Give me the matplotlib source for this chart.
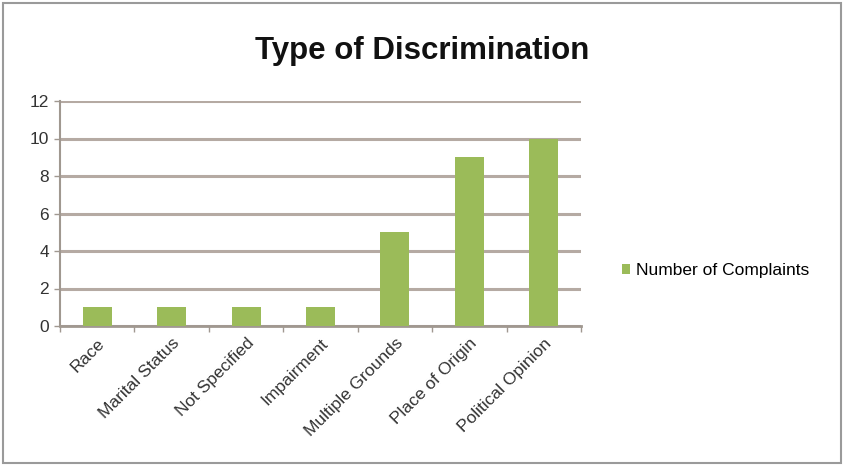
import matplotlib
matplotlib.use("Agg")
import matplotlib.pyplot as plt
from matplotlib.patches import Rectangle
import numpy as np

categories = ["Race", "Marital Status", "Not Specified", "Impairment",
              "Multiple Grounds", "Place of Origin", "Political Opinion"]
complaints = [1, 1, 1, 1, 5, 9, 10]
yticks = [0, 2, 4, 6, 8, 10, 12]

plt.rcParams['font.family'] = ['Liberation Sans', 'DejaVu Sans']

fig = plt.figure(figsize=(8.44, 4.66), dpi=100)
fig.patch.set_facecolor('white')
fig.add_artist(Rectangle((0.004, 0.006), 0.992, 0.988, transform=fig.transFigure,
                         fill=False, edgecolor='#9a9a9a', linewidth=1.5))

ax = fig.add_axes([60/844, 1-326/466, (581-60)/844, (326-101)/466])
x = np.arange(len(categories))
ax.bar(x, complaints, width=0.39, color='#9bbb59', label='Number of Complaints', zorder=3)
ax.set_xlim(-0.5, len(categories)-0.5)
ax.set_ylim(0, 12)
ax.set_yticks(yticks)
ax.set_yticklabels([str(v) for v in yticks], fontsize=12.5, color='#333333')
ax.yaxis.grid(True, color='#b5aaa3', linewidth=2.2, zorder=0)
ax.set_axisbelow(True)
ax.set_xticks(x)
ax.set_xticklabels(categories, rotation=45, ha='right', rotation_mode='anchor',
                   fontsize=12.5, color='#333333')
ax.tick_params(axis='x', length=0, pad=7)
ax.set_xticks(np.arange(-0.5, len(categories), 1), minor=True)
ax.tick_params(axis='x', which='minor', length=4, color='#a09890', width=1)
ax.tick_params(axis='y', length=4, color='#a09890', width=1, pad=4)
for s in ['top', 'right']:
    ax.spines[s].set_visible(False)
ax.spines['left'].set_color('#a09890')
ax.spines['bottom'].set_color('#a09890')
ax.spines['left'].set_linewidth(1.5)
ax.spines['bottom'].set_linewidth(2)

fig.text(422/844, 1-51/466, "Type of Discrimination", ha='center', va='center',
         fontsize=22.5, fontweight='bold', color='#111111')

ax.legend(loc='center left', bbox_to_anchor=(606/844, 1-271/466),
          bbox_transform=fig.transFigure, frameon=False, fontsize=12.5,
          handlelength=0.5, handleheight=0.5, handletextpad=0.3)

fig.savefig("out.png", dpi=100, facecolor='white')
